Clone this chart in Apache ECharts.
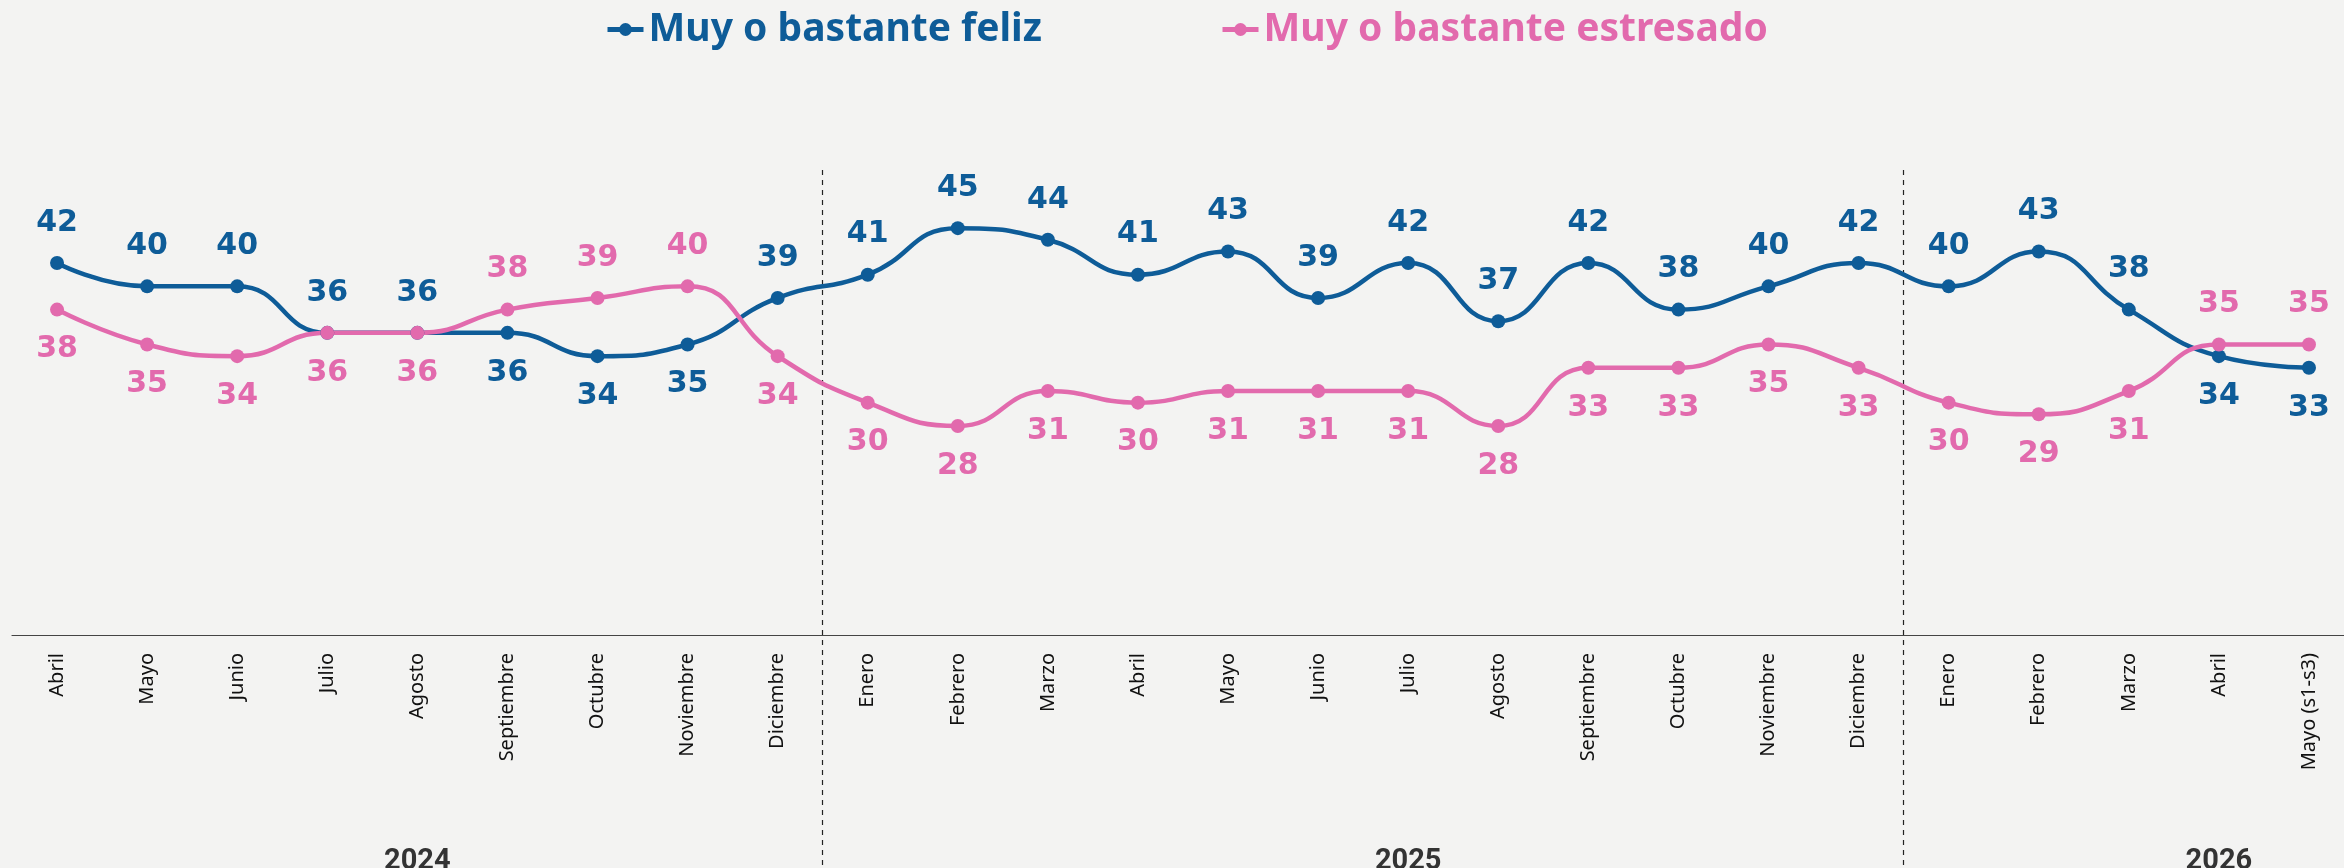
<!DOCTYPE html>
<html>
<head>
<meta charset="utf-8">
<script src="https://cdn.jsdelivr.net/npm/echarts@6/dist/echarts.min.js"></script>
<style>
  html, body { margin: 0; padding: 0; background: #f3f3f2; }
  #chart { width: 2344px; height: 868px; }
</style>
</head>
<body>
<div id="chart"></div>
<script>
const months = [
  'Abril', 'Mayo', 'Junio', 'Julio', 'Agosto', 'Septiembre', 'Octubre', 'Noviembre', 'Diciembre',
  'Enero', 'Febrero', 'Marzo', 'Abril', 'Mayo', 'Junio', 'Julio', 'Agosto', 'Septiembre', 'Octubre', 'Noviembre', 'Diciembre',
  'Enero', 'Febrero', 'Marzo', 'Abril', 'Mayo (s1-s3)'
]
const years = [
  '', '', '', '', '2024', '', '', '', '',
  '', '', '', '', '', '', '2025', '', '', '', '', '',
  '', '', '', '2026', ''
]
const yearBreaks = [9, 21]
const feliz = [42, 40, 40, 36, 36, 36, 34, 35, 39, 41, 45, 44, 41, 43, 39, 42, 37, 42, 38, 40, 42, 40, 43, 38, 34, 33]
const estresado = [38, 35, 34, 36, 36, 38, 39, 40, 34, 30, 28, 31, 30, 31, 31, 31, 28, 33, 33, 35, 33, 30, 29, 31, 35, 35]

const BLUE = '#0e5c98'
const PINK = '#e26aad'

// label goes above the point when this series is the higher one
function withLabels (values, other, winsTie) {
  return values.map((v, i) => {
    const above = v > other[i] || (v === other[i] && winsTie)
    return { value: v, label: { position: above ? 'top' : 'bottom' } }
  })
}

function lineSeries (name, color, data) {
  return {
    name,
    type: 'line',
    data,
    smooth: 0.5,
    symbol: 'circle',
    symbolSize: 14,
    lineStyle: { color, width: 4.5 },
    itemStyle: { color },
    label: {
      show: true,
      color,
      fontFamily: 'DejaVu Sans',
      fontWeight: 'bold',
      fontSize: 30,
      distance: 18
    },
    emphasis: { disabled: true }
  }
}

const chart = echarts.init(document.getElementById('chart'))
chart.setOption({
  backgroundColor: '#f3f3f2',
  animation: false,
  legend: {
    top: 5,
    left: 600,
    itemGap: 178,
    itemWidth: 36,
    itemHeight: 16,
    lineStyle: { width: 5 },
    textStyle: { fontFamily: 'Noto Sans', fontWeight: 'bold', fontSize: 39 },
    data: [
      { name: 'Muy o bastante feliz', textStyle: { color: BLUE } },
      { name: 'Muy o bastante estresado', textStyle: { color: PINK } }
    ]
  },
  grid: { left: 12, width: 2342, top: 170, bottom: 0, outerBoundsMode: 'none' },
  xAxis: [
    {
      type: 'category',
      data: months,
      position: 'bottom',
      offset: -233,
      axisLine: { lineStyle: { color: '#444', width: 1.2 } },
      axisTick: { length: 12, interval: 0, lineStyle: { color: '#444' } },
      axisLabel: {
        interval: 0,
        rotate: 90,
        margin: 18,
        color: '#111',
        fontFamily: 'Noto Sans',
        fontSize: 20
      },
      splitLine: {
        show: true,
        interval: (i) => yearBreaks.includes(i),
        lineStyle: { color: '#222', type: [5, 5], width: 1.2 }
      }
    },
    {
      type: 'category',
      data: years,
      position: 'bottom',
      offset: 0,
      axisLine: { show: false },
      axisTick: { show: false },
      axisLabel: {
        interval: 0,
        inside: true,
        margin: -8,
        color: '#333',
        fontFamily: 'Roboto',
        fontWeight: 'bold',
        fontSize: 29
      }
    }
  ],
  yAxis: { type: 'value', min: -10, max: 50, show: false },
  series: [
    lineSeries('Muy o bastante feliz', BLUE, withLabels(feliz, estresado, true)),
    lineSeries('Muy o bastante estresado', PINK, withLabels(estresado, feliz, false))
  ]
})
</script>
</body>
</html>
